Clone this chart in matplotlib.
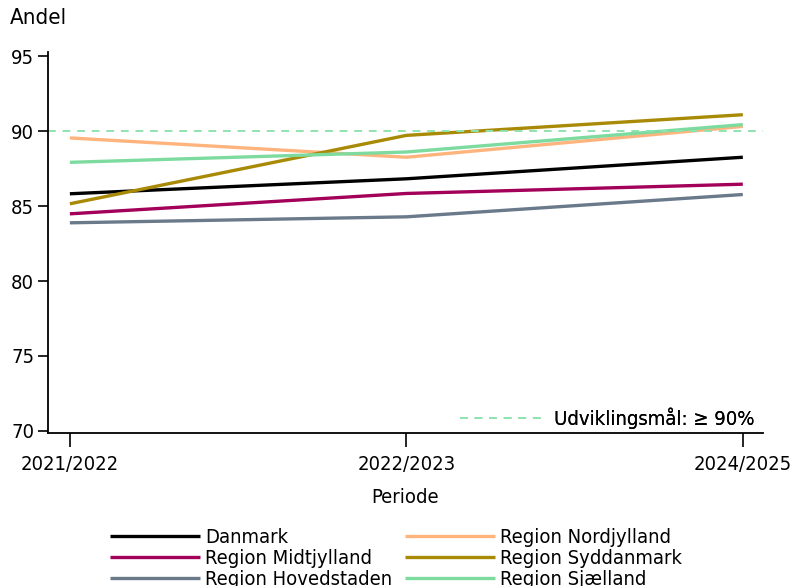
import matplotlib.pyplot as plt
from matplotlib.lines import Line2D

perioder = ["2021/2022", "2022/2023", "2024/2025"]

danmark = [85.83, 86.83, 88.27]
midtjylland = [84.49, 85.85, 86.47]
hovedstaden = [83.89, 84.29, 85.78]
nordjylland = [89.56, 88.27, 90.33]
syddanmark = [85.16, 89.73, 91.11]
sjaelland = [87.93, 88.62, 90.45]

maal = 90

serier = [
    ("Danmark", danmark, "#000000"),
    ("Region Midtjylland", midtjylland, "#a3005a"),
    ("Region Hovedstaden", hovedstaden, "#6a7a8b"),
    ("Region Nordjylland", nordjylland, "#ffb47e"),
    ("Region Syddanmark", syddanmark, "#a88a06"),
    ("Region Sjælland", sjaelland, "#7ddba0"),
]

plt.rcParams['font.family'] = ['DejaVu Sans']
plt.rcParams['font.stretch'] = 'condensed'
plt.rcParams['font.size'] = 14.5

fig = plt.figure(figsize=(7.92, 5.86), dpi=100)
ax = fig.add_axes([48/792, 1-433/586, (763-48)/792, (433-52)/586])

x = list(range(len(perioder)))
handles = []
for navn, vals, farve in serier:
    h, = ax.plot(x, vals, color=farve, lw=2.4, label=navn, solid_capstyle='butt')
    handles.append(h)

ax.axhline(maal, color="#8fe3ae", lw=1.4, ls=(0, (4, 3.5)))

ax.set_xlim(-0.065, 2.06)
ax.set_ylim(69.85, 95.3)
ax.set_yticks([70, 75, 80, 85, 90, 95])
ax.set_xticks(x)
ax.set_xticklabels(perioder)
ax.spines['top'].set_visible(False)
ax.spines['right'].set_visible(False)
ax.spines['left'].set_linewidth(1.3)
ax.spines['bottom'].set_linewidth(1.3)
ax.tick_params(axis='y', length=7, width=1.2, pad=3)
ax.tick_params(axis='x', length=10, width=1.2, pad=6)
ax.set_xlabel("Periode", labelpad=10)
fig.text(10/792, 1-18/586, "Andel", va='center', ha='left', fontsize=16)

mleg = ax.legend([Line2D([], [], color="#8fe3ae", lw=1.4, ls=(0, (4, 3.5)))],
                 ["Udviklingsmål: ≥ 90%"], loc='lower right', frameon=False,
                 bbox_to_anchor=(1.0, -0.01), handlelength=4.1,
                 borderaxespad=0.0, handletextpad=0.6)
ax.add_artist(mleg)

fig.legend(handles, [s[0] for s in serier], ncol=2, loc='upper center',
           bbox_to_anchor=(0.5, 1-520/586), frameon=False, handlelength=4.5,
           labelspacing=0.1, columnspacing=0.6, handletextpad=0.25,
           borderaxespad=0)

fig.savefig("out.png", dpi=100)
